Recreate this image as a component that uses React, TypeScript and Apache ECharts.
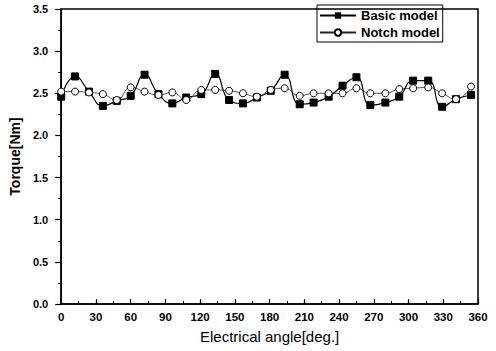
import React, { useEffect, useRef } from "react";
import * as echarts from "echarts";

// Electrical angle of each sample point [deg.]
const angleDeg = [
  0, 12, 24, 36, 48, 60, 72, 84, 96, 108, 121, 133, 145, 157, 169,
  181, 193, 206, 218, 231, 243, 255, 267, 280, 292, 304, 317, 329, 341, 354,
];

// Torque of the basic model [Nm]
const basicTorque = [
  2.46, 2.7, 2.52, 2.35, 2.41, 2.47, 2.72, 2.49, 2.38, 2.45, 2.49, 2.73, 2.42, 2.38, 2.45,
  2.53, 2.72, 2.37, 2.39, 2.46, 2.59, 2.69, 2.36, 2.39, 2.46, 2.65, 2.65, 2.34, 2.43, 2.48,
];

// Torque of the notch model [Nm]
const notchTorque = [
  2.52, 2.52, 2.51, 2.49, 2.42, 2.57, 2.52, 2.48, 2.51, 2.42, 2.54, 2.54, 2.53, 2.5, 2.46,
  2.54, 2.56, 2.47, 2.5, 2.5, 2.5, 2.56, 2.5, 2.5, 2.55, 2.56, 2.57, 2.5, 2.43, 2.58,
];

const seriesNames = ["Basic model", "Notch model"];

const FONT = "Liberation Sans, Arial, sans-serif";

export default function App() {
  const ref = useRef<HTMLDivElement>(null);

  useEffect(() => {
    if (!ref.current) return;
    const chart = echarts.init(ref.current, null, { renderer: "svg" });
    const toPairs = (vals: number[]) => vals.map((v, i) => [angleDeg[i], v]);

    chart.setOption({
      animation: false,
      backgroundColor: "#fff",
      textStyle: { fontFamily: FONT },
      grid: {
        left: 58,
        right: 18,
        top: 9,
        bottom: 47,
        show: true,
        borderColor: "#000",
        borderWidth: 1.5,
      },
      legend: {
        data: seriesNames,
        orient: "vertical",
        left: 317,
        top: 5,
        borderColor: "#000",
        borderWidth: 1,
        padding: [4, 3, 3, 2],
        itemGap: 4,
        itemWidth: 36,
        itemHeight: 8,
        textStyle: { fontFamily: FONT, fontSize: 13, fontWeight: "bold", color: "#000" },
      },
      xAxis: {
        type: "value",
        min: 0,
        max: 360,
        interval: 30,
        name: "Electrical angle[deg.]",
        nameLocation: "middle",
        nameGap: 25,
        nameTextStyle: { fontFamily: FONT, fontSize: 15, color: "#000" },
        axisLine: { lineStyle: { color: "#000", width: 1.5 } },
        axisTick: { inside: true, length: 5, lineStyle: { color: "#000", width: 1.2 } },
        minorTick: { show: true, splitNumber: 2, length: 3, lineStyle: { color: "#000" } },
        axisLabel: { color: "#000", fontSize: 11.5, fontWeight: "bold", margin: 7 },
        splitLine: { show: false },
      },
      yAxis: {
        type: "value",
        min: 0,
        max: 3.5,
        interval: 0.5,
        name: "Torque[Nm]",
        nameLocation: "middle",
        nameGap: 37,
        nameTextStyle: { fontFamily: FONT, fontSize: 14, fontWeight: "bold", color: "#000" },
        axisLine: { lineStyle: { color: "#000", width: 1.5 } },
        axisTick: { inside: false, length: 6, lineStyle: { color: "#000", width: 1.2 } },
        minorTick: { show: true, splitNumber: 2, length: 3, lineStyle: { color: "#000" } },
        axisLabel: {
          color: "#000",
          fontSize: 11,
          fontWeight: "bold",
          margin: 13,
          formatter: (v: number) => v.toFixed(1),
        },
        splitLine: { show: false },
      },
      series: [
        {
          name: seriesNames[0],
          type: "line",
          smooth: 0.5,
          data: toPairs(basicTorque),
          symbol: "rect",
          symbolSize: 7,
          itemStyle: { color: "#000", borderColor: "#000" },
          lineStyle: { color: "#000", width: 1.2 },
          z: 2,
        },
        {
          name: seriesNames[1],
          type: "line",
          smooth: 0.5,
          data: toPairs(notchTorque),
          symbol: "circle",
          symbolSize: 7,
          itemStyle: { color: "#fff", borderColor: "#000", borderWidth: 1 },
          lineStyle: { color: "#222", width: 0.8 },
          z: 3,
        },
      ],
    });

    return () => chart.dispose();
  }, []);

  return (
    <div
      ref={ref}
      style={{ position: "fixed", left: 0, top: 0, width: 496, height: 351 }}
    />
  );
}
